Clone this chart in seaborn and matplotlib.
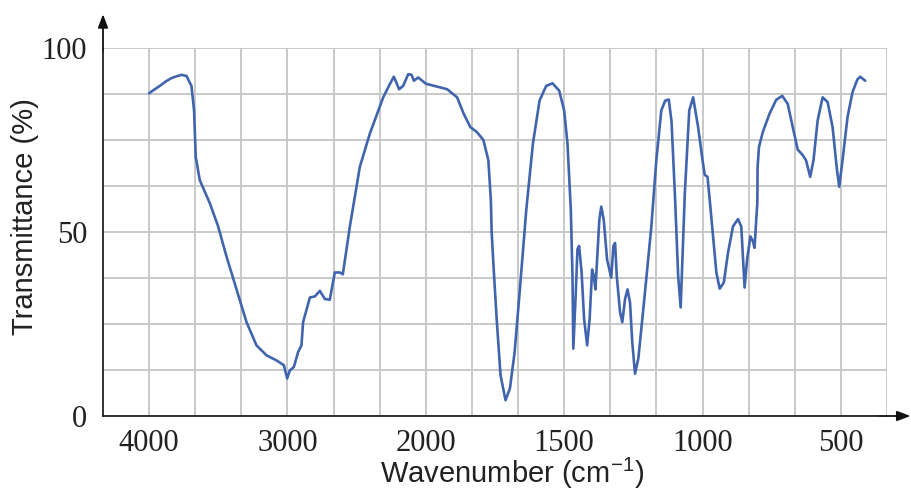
import numpy as np
import pandas as pd
import matplotlib
matplotlib.use("Agg")
import matplotlib.pyplot as plt
from matplotlib.ticker import FixedLocator, NullFormatter
import seaborn as sns

# ---- data ----
wavenumber = [
    4000, 3959, 3923, 3880, 3839, 3802, 3766, 3730, 3694, 3675, 3663, 3634,
    3561, 3501, 3441, 3369, 3296, 3224, 3152, 3079, 3026, 3002, 2983, 2954,
    2923, 2899, 2887, 2838, 2802, 2766, 2730, 2694, 2658, 2621, 2600, 2549,
    2477, 2405, 2308, 2260, 2231, 2193, 2164, 2127, 2103, 2086, 2055, 2000,
    1923, 1887, 1863, 1839, 1816, 1792, 1774, 1765, 1762, 1754, 1744, 1730,
    1712, 1696, 1679, 1661, 1637, 1613, 1589, 1565, 1542, 1518, 1500, 1488,
    1476, 1470, 1467, 1458, 1452, 1446, 1437, 1428, 1417, 1408, 1399, 1393,
    1387, 1381, 1373, 1366, 1357, 1345, 1330, 1322, 1316, 1310, 1298, 1290,
    1280, 1271, 1262, 1254, 1244, 1232, 1208, 1185, 1167, 1149, 1135, 1122,
    1112, 1100, 1088, 1079, 1064, 1048, 1034, 1016, 1000, 992, 982, 974,
    962, 950, 938, 923, 908, 890, 872, 860, 856, 848, 839, 827,
    818, 812, 806, 802, 801, 796, 782, 758, 734, 712, 692, 674,
    656, 638, 626, 611, 599, 584, 566, 548, 530, 514, 506, 494,
    476, 458, 440, 430, 412,
]
transmittance = [
    87.7, 88.8, 89.7, 90.9, 91.8, 92.3, 92.7, 92.4, 89.7, 83.0, 70.4, 64.1,
    57.8, 51.5, 43.4, 34.5, 25.5, 19.2, 16.5, 15.1, 13.8, 10.2, 12.4, 13.3,
    17.4, 19.2, 25.5, 32.2, 32.5, 34.0, 31.8, 31.6, 39.0, 39.0, 38.5, 51.5,
    67.7, 76.7, 86.6, 90.2, 92.2, 88.8, 89.7, 92.9, 92.7, 91.1, 92.0, 90.3,
    88.8, 86.6, 82.1, 78.5, 77.2, 75.0, 69.5, 58.7, 49.8, 39.0, 26.4, 11.1,
    4.3, 7.5, 17.4, 33.6, 56.0, 74.0, 85.7, 89.7, 90.4, 88.4, 83.0, 74.0,
    56.0, 38.0, 18.3, 33.6, 45.3, 46.2, 39.0, 26.4, 19.2, 26.4, 39.8, 38.0,
    34.4, 42.5, 53.3, 56.9, 53.3, 42.5, 37.6, 46.2, 47.0, 38.0, 28.2, 25.5,
    31.8, 34.4, 30.8, 20.1, 11.5, 15.6, 33.6, 51.5, 69.5, 83.0, 85.7, 86.0,
    80.0, 60.5, 38.0, 29.5, 60.5, 83.0, 86.6, 78.5, 69.5, 65.5, 65.0, 58.7,
    48.8, 39.0, 34.6, 36.3, 44.3, 51.5, 53.5, 51.5, 46.1, 34.9, 42.5, 48.8,
    47.5, 45.7, 53.3, 57.8, 67.7, 73.1, 77.2, 82.1, 85.9, 87.0, 84.8, 78.5,
    72.4, 70.9, 69.5, 65.0, 69.5, 80.3, 86.6, 85.3, 78.5, 66.8, 62.3, 69.5,
    81.2, 88.0, 91.5, 92.2, 91.1,
]
x_major_ticks = [4000, 3000, 2000, 1500, 1000, 500]
y_major_ticks = [0, 50, 100]
x_label = "Wavenumber (cm$^{-1}$)"
y_label = "Transmittance (%)"

df = pd.DataFrame({"w": wavenumber, "T": transmittance})

# ---- style ----
sns.set_style("white")
plt.rcParams["font.family"] = ["Liberation Serif", "DejaVu Sans"]
plt.rcParams["mathtext.fontset"] = "custom"
plt.rcParams["mathtext.rm"] = "Liberation Sans"
plt.rcParams["mathtext.default"] = "regular"

fig = plt.figure(figsize=(9.11, 4.93), dpi=100)
ax = fig.add_axes([103 / 911, 1 - 416 / 493, 784 / 911, 368 / 493])

sns.lineplot(data=df, x="w", y="T", sort=False, estimator=None, ax=ax,
             color="#4164ae", linewidth=1.9, zorder=3)
ax.lines[0].set_solid_joinstyle("round")
ax.lines[0].set_solid_capstyle("round")


# IR-style axis: scale doubles below 2000 cm-1 (monotonic increasing map)
def fwd(w):
    w = np.asarray(w, dtype=float)
    return np.where(w >= 2000, (w - 4000) / 1000.0, -2 - (2000 - w) / 500.0)


def inv(u):
    u = np.asarray(u, dtype=float)
    return np.where(u >= -2, 4000 + 1000.0 * u, 2000 + 500.0 * (u + 2))


ax.set_xscale("function", functions=(fwd, inv))
ax.set_xlim(4000 + 1000 / 3, 500 - 500 / 3)
ax.set_ylim(0, 100)

minor_x = [4000 - 1000 / 3 * k for k in range(7)] + [2000 - 500 / 3 * k for k in range(1, 11)]
ax.xaxis.set_major_locator(FixedLocator(x_major_ticks))
ax.xaxis.set_minor_locator(FixedLocator(minor_x))
ax.xaxis.set_minor_formatter(NullFormatter())
ax.set_xticklabels([str(t) for t in x_major_ticks])
ax.yaxis.set_major_locator(FixedLocator(y_major_ticks))
ax.yaxis.set_minor_locator(FixedLocator([12.5 * k for k in range(9)]))
ax.yaxis.set_minor_formatter(NullFormatter())

ax.grid(True, which="both", color="#c8c8c8", linewidth=1.4)
ax.set_axisbelow(True)

ax.tick_params(axis="both", which="major", direction="out", length=7.5,
               width=1.2, color="#222222", labelsize=22, labelcolor="#222222")
ax.tick_params(axis="x", which="major", pad=2)
ax.tick_params(axis="y", which="major", pad=4)
ax.tick_params(axis="both", which="minor", length=0)

for s in ["top", "right"]:
    ax.spines[s].set_visible(False)
for s in ["left", "bottom"]:
    ax.spines[s].set_color("#222222")
    ax.spines[s].set_linewidth(1.3)
    ax.spines[s].set_zorder(4)

# arrow heads on axes
ax.annotate("", xy=(0, 1.092), xycoords="axes fraction", xytext=(0, 0.99),
            arrowprops=dict(arrowstyle="-|>,head_length=0.8,head_width=0.3",
                            color="#111111", lw=1.3, shrinkA=0, shrinkB=0))
ax.annotate("", xy=(1.03, 0), xycoords="axes fraction", xytext=(0.99, 0),
            arrowprops=dict(arrowstyle="-|>,head_length=0.8,head_width=0.3",
                            color="#111111", lw=1.3, shrinkA=0, shrinkB=0))

ax.set_xlabel(x_label, family="Liberation Sans", fontsize=21, color="#222222",
              va="center")
ax.xaxis.set_label_coords(0.522, -0.157)
ax.set_ylabel(y_label, family="Liberation Sans", fontsize=21, color="#222222",
              va="center")
ax.yaxis.set_label_coords(-0.0995, 0.541)

fig.savefig("out.png", dpi=100)
